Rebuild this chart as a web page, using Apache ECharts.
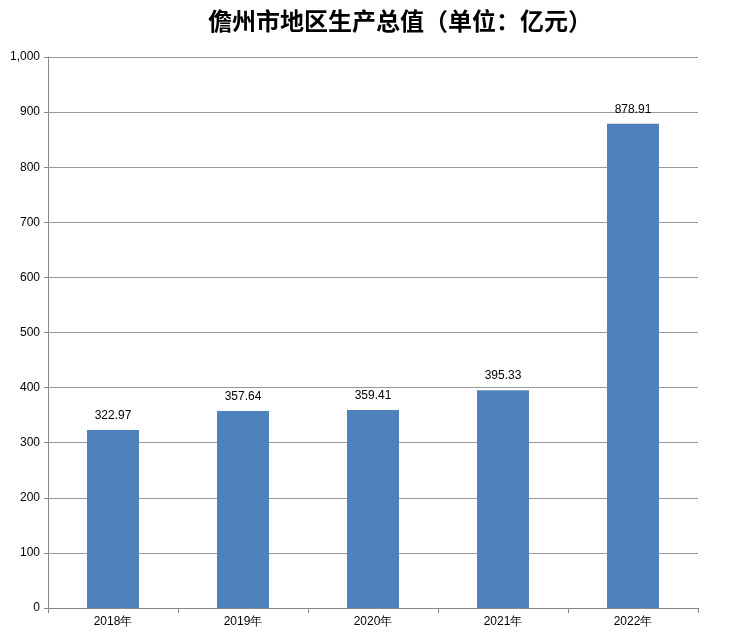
<!DOCTYPE html>
<html>
<head>
<meta charset="utf-8">
<script src="https://cdn.jsdelivr.net/npm/echarts@6/dist/echarts.min.js"></script>
<style>html,body{margin:0;padding:0;background:#fff}#chart{width:740px;height:643px}</style>
</head>
<body>
<div id="chart"></div>
<script>
// 儋州市地区生产总值
var years = ['2018年', '2019年', '2020年', '2021年', '2022年'];
var gdp = [322.97, 357.64, 359.41, 395.33, 878.91];

var chart = echarts.init(document.getElementById('chart'));
chart.setOption({
  animation: false,
  title: {
    text: '儋州市地区生产总值（单位：亿元）',
    left: 395, textAlign: 'center', top: 4,
    textStyle: { fontFamily: 'Noto Sans CJK SC', fontWeight: 'bold', fontSize: 24, color: '#000' }
  },
  grid: { left: 48, right: 42, top: 57, bottom: 35 },
  xAxis: {
    type: 'category', data: years,
    axisLine: { lineStyle: { color: '#888' } },
    axisTick: { show: true, alignWithLabel: false, lineStyle: { color: '#888' } },
    axisLabel: { color: '#000', fontSize: 12, margin: 8 }
  },
  yAxis: {
    type: 'value', min: 0, max: 1000, interval: 100,
    axisLine: { show: true, lineStyle: { color: '#888' } },
    axisTick: { show: true, length: 4, lineStyle: { color: '#888' } },
    axisLabel: { color: '#000', fontSize: 12 },
    splitLine: { lineStyle: { color: '#999' } }
  },
  series: [{
    type: 'bar', data: gdp, barWidth: '40%',
    itemStyle: { color: '#4f81bd' },
    label: { show: true, position: 'top', color: '#000', fontSize: 12, distance: 8 }
  }]
});
</script>
</body>
</html>
